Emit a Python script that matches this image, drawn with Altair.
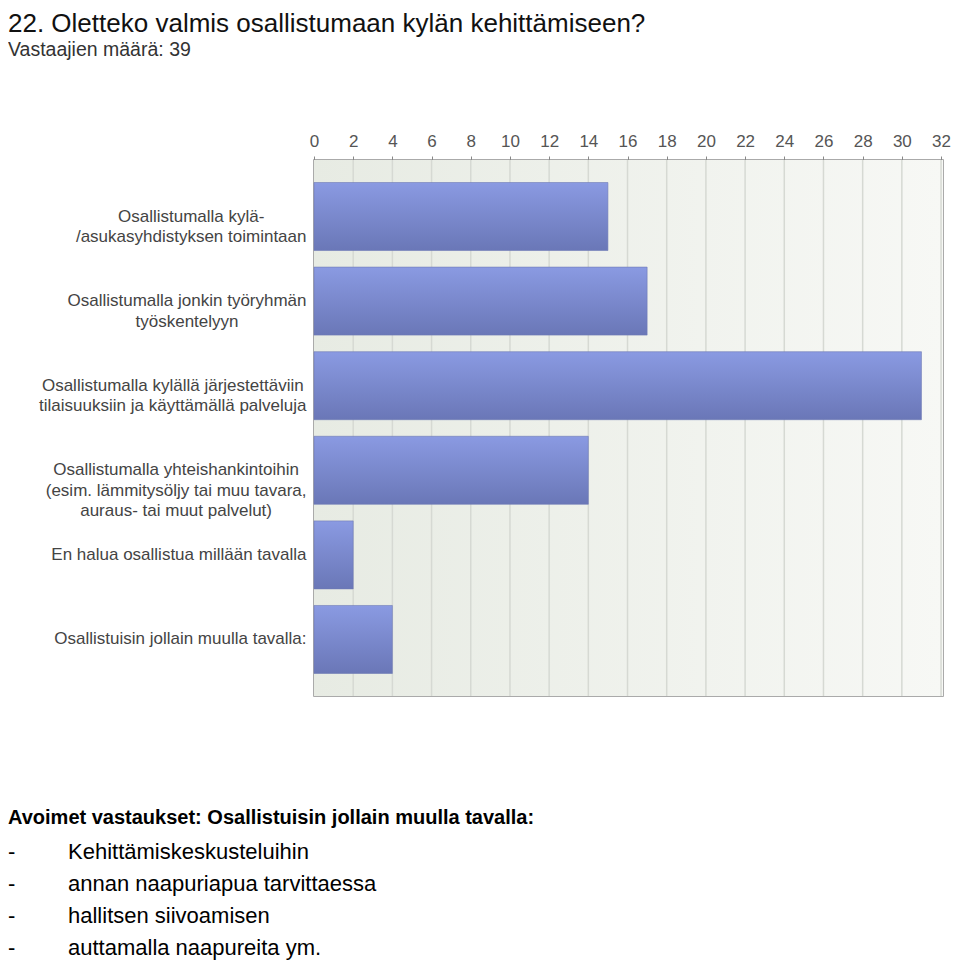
import altair as alt
import pandas as pd

# ---- data ----
label_lines = [
    ["Osallistumalla kylä-", "/asukasyhdistyksen toimintaan"],
    ["Osallistumalla jonkin työryhmän", "työskentelyyn"],
    ["Osallistumalla kylällä järjestettäviin", "tilaisuuksiin ja käyttämällä palveluja"],
    ["Osallistumalla yhteishankintoihin", "(esim. lämmitysöljy tai muu tavara,", "auraus- tai muut palvelut)"],
    ["En halua osallistua millään tavalla"],
    ["Osallistuisin jollain muulla tavalla:"],
]
counts = [15, 17, 31, 14, 2, 4]
x_ticks = list(range(0, 33, 2))
grid_values = list(range(2, 33, 2))

title_text = "22. Oletteko valmis osallistumaan kylän kehittämiseen?"
subtitle_text = "Vastaajien määrä: 39"
open_heading = "Avoimet vastaukset: Osallistuisin jollain muulla tavalla:"
open_answers = [
    "Kehittämiskeskusteluihin",
    "annan naapuriapua tarvittaessa",
    "hallitsen siivoamisen",
    "auttamalla naapureita ym.",
]

# ---- layout / style ----
W, H = 629, 536
LEFT, TOP = 306, 152
FONT = "Liberation Sans"
LABEL_SIZE = 17

# approximate Arial/Helvetica advance widths (per 1000 em) for centring label blocks
_w = {c: 556 for c in "abdeghnopqu0123456789äöå"}
_w.update({"c": 500, "f": 278, "i": 222, "j": 222, "k": 500, "l": 222, "m": 833,
           "r": 333, "s": 500, "t": 278, "v": 500, "w": 722, "x": 500, "y": 500,
           "z": 500, "O": 778, "E": 667, "A": 667, "V": 667, "K": 667, " ": 278,
           "-": 333, "/": 278, "(": 333, ")": 333, ".": 278, ",": 278, ":": 278})


def text_width(s, size):
    return sum(_w.get(ch, 556) for ch in s) * size / 1000.0


labels = ["|".join(lines) for lines in label_lines]
df = pd.DataFrame({"label": labels, "count": counts})

pad_conditions = []
for lab, lines in zip(labels, label_lines):
    wmax = max(text_width(l, LABEL_SIZE) for l in lines)
    pad_conditions.append({"test": f"datum.value === '{lab}'", "value": round(8 + wmax / 2, 1)})

xscale = alt.Scale(domain=[0, 32.1], nice=False, zero=True)
yscale = alt.Scale(paddingInner=0.196, paddingOuter=0.266)

background = alt.Chart(alt.Data(values=[{}])).mark_rect(
    fill=alt.LinearGradient(
        gradient="linear",
        stops=[alt.GradientStop(color="#e7ebe3", offset=0),
               alt.GradientStop(color="#f7f8f5", offset=1)],
        x1=0, x2=1, y1=0, y2=0,
    )
).encode(x=alt.value(0), x2=alt.value(W), y=alt.value(0), y2=alt.value(H))

x_axis = alt.Axis(orient="top", values=x_ticks, grid=False, domain=False,
                  tickSize=4, tickColor="#888888", labelColor="#555555",
                  labelFontSize=17, labelFont=FONT, labelPadding=6,
                  labelFlush=False, labelOverlap=False, labelSeparation=0,
                  format="d")

grid = alt.Chart(pd.DataFrame({"v": grid_values})).mark_rule(
    color="#d6d9d3", strokeWidth=1.5
).encode(x=alt.X("v:Q", scale=xscale, title=None, axis=x_axis))

bars = alt.Chart(df).mark_bar(
    fill=alt.LinearGradient(
        gradient="linear",
        stops=[alt.GradientStop(color="#8a9ae2", offset=0),
               alt.GradientStop(color="#6a77b7", offset=1)],
        x1=0, x2=0, y1=0, y2=1,
    ),
    stroke="#6f7bb6", strokeWidth=0.6,
).encode(
    x=alt.X("count:Q", scale=xscale, title=None, axis=x_axis),
    y=alt.Y("label:N", sort=labels, scale=yscale, title=None,
            axis=alt.Axis(orient="left", ticks=False, domain=False, grid=False,
                          labelAlign="center", labelBaseline="middle",
                          labelExpr="split(datum.label, '|')",
                          labelPadding={"condition": pad_conditions, "value": 9},
                          labelColor="#444444", labelFontSize=LABEL_SIZE,
                          labelFont=FONT, labelLineHeight=20.5, labelLimit=400,
                          labelOverlap=False)),
)


def txt(s, x, y, size, color="#000000", weight="normal"):
    return alt.Chart(alt.Data(values=[{}])).mark_text(
        align="left", baseline="middle", font=FONT, fontSize=size,
        fontWeight=weight, color=color, clip=False,
    ).encode(x=alt.value(x), y=alt.value(y), text=alt.value(s))


texts = [
    txt(title_text, -LEFT, -136, 26, "#111111"),
    txt(subtitle_text, -LEFT, -110, 19.5, "#333333"),
    txt(open_heading, -LEFT, 658, 20, "#000000", "bold"),
]
for i, ans in enumerate(open_answers):
    yy = 692 + 32 * i
    texts.append(txt("-", -LEFT, yy, 22))
    texts.append(txt(ans, -LEFT + 60, yy, 22))

chart = alt.layer(background, grid, bars, *texts).properties(
    width=W, height=H,
    autosize=alt.AutoSizeParams(type="none"),
    padding={"left": LEFT, "top": TOP, "right": 9, "bottom": 264},
    background="#ffffff",
).configure_view(
    stroke="#8f8f8f", strokeWidth=1.5
).configure_axisX(labelOverlap=False)

chart.save("out.html", embed_options={"renderer": "svg", "actions": False})
